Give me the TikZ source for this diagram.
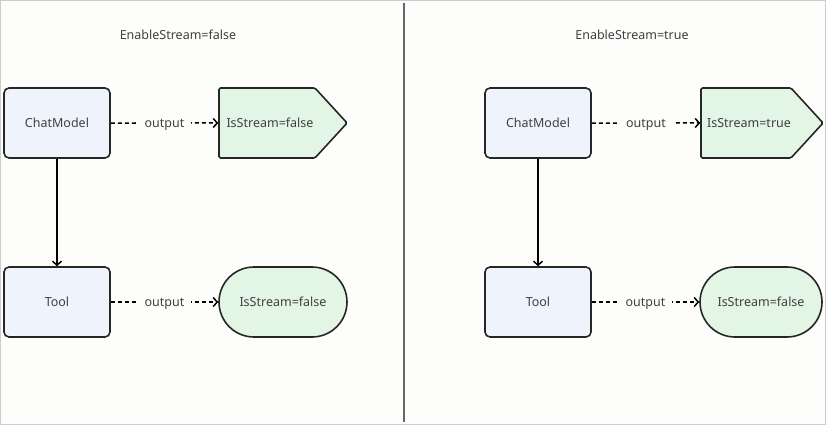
\documentclass[tikz,border=0pt]{standalone}
\usepackage{fontspec}
\setmainfont{Noto Sans}
\usetikzlibrary{arrows.meta,shapes.symbols}
\definecolor{bgpaper}{HTML}{FDFDFB}
\definecolor{boxblue}{HTML}{EEF3FC}
\definecolor{boxgreen}{HTML}{E3F5E5}
\definecolor{inkgray}{HTML}{404040}

\begin{document}
\begin{tikzpicture}[x=1pt,y=-1pt,
    font=\fontsize{12.5}{15}\selectfont,
    every node/.style={text=inkgray},
    procbox/.style={draw=black!85,line width=1.6pt,fill=boxblue,rounded corners=5pt,
      minimum width=106pt,minimum height=70pt},
    flagsig/.style={draw=black!85,line width=1.6pt,fill=boxgreen,signal,signal to=east,
      signal pointer angle=95,minimum height=70pt,inner xsep=0pt,rounded corners=1.5pt},
    flagpill/.style={draw=black!85,line width=1.6pt,fill=boxgreen,rounded corners=35pt,
      minimum height=70pt},
    flowtag/.style={fill=bgpaper,inner xsep=7pt,inner ysep=2pt,yshift=-2pt},
    dashflow/.style={dash pattern=on 4pt off 3pt,line width=1.5pt,
      -{Straight Barb[length=4pt,width=9pt]}},
    solidflow/.style={line width=1.5pt,-{Straight Barb[length=4pt,width=9pt]}}]
  \useasboundingbox (0,0) rectangle (826,425);
  \draw[black!20,line width=1pt,fill=bgpaper] (0.5,0.5) rectangle (825.5,424.5);
  \draw[black!60,line width=2pt] (404,3) -- (404,422);

  % left: EnableStream=false
  \node (titleL) at (178,35) {EnableStream=false};
  \node[procbox] (chatL) at (57,123) {ChatModel};
  \node[procbox] (toolL) at (57,302) {Tool};
  \node[flagsig,minimum width=128pt] (sigL) at (267,123) {\hspace{6pt}IsStream=false};
  \node[flagpill,minimum width=128pt] (pillL) at (283,302) {IsStream=false};
  \draw[dashflow] (chatL) -- node[flowtag]{output} (sigL);
  \draw[dashflow] (toolL) -- node[flowtag]{output} (pillL);
  \draw[solidflow] (chatL) -- (toolL);

  % right: EnableStream=true
  \node (titleR) at (632,35) {EnableStream=true};
  \node[procbox] (chatR) at (538,123) {ChatModel};
  \node[procbox] (toolR) at (538,302) {Tool};
  \node[flagsig,minimum width=122pt] (sigR) at (746,123) {\hspace{6pt}IsStream=true};
  \node[flagpill,minimum width=122pt] (pillR) at (761,302) {IsStream=false};
  \draw[dashflow] (chatR) -- node[flowtag]{output} (sigR);
  \draw[dashflow] (toolR) -- node[flowtag]{output} (pillR);
  \draw[solidflow] (chatR) -- (toolR);
\end{tikzpicture}
\end{document}
